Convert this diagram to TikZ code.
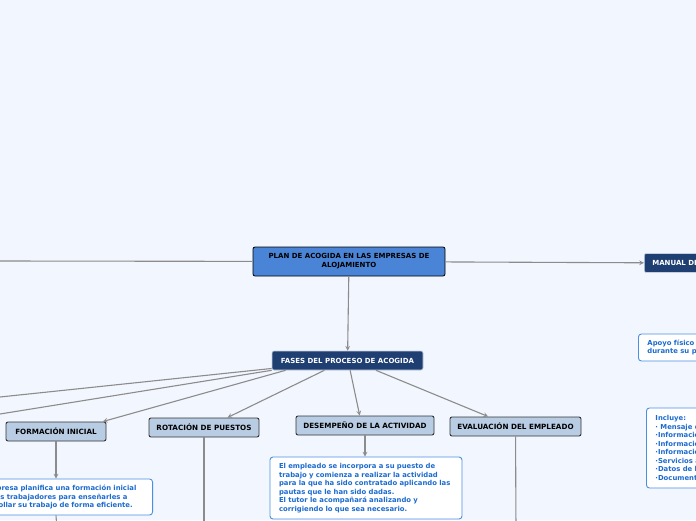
\documentclass[tikz,border=0pt]{standalone}
\usepackage{fontspec}
\setmainfont{DejaVu Sans}
\usepackage{xcolor}
\usetikzlibrary{shapes,arrows,positioning}

\definecolor{fondo}{HTML}{F2F6FE}
\definecolor{azulraiz}{HTML}{4A84D6}
\definecolor{azulosc}{HTML}{1F3F73}
\definecolor{azulclaro}{HTML}{B8CCE4}
\definecolor{azulnota}{HTML}{4A90E2}
\definecolor{textonota}{HTML}{1C6BCF}
\definecolor{gris}{HTML}{8C8C8C}

\begin{document}
\begin{tikzpicture}[x=1pt, y=-1pt,
  raiz/.style={rectangle, rounded corners=2pt, draw=black, line width=0.8pt,
              fill=azulraiz, font=\bfseries\fontsize{7}{9}\selectfont,
              minimum width=192pt, minimum height=29pt, align=center},
  fase/.style={rectangle, rounded corners=2pt, draw=white!75!azulosc, line width=0.6pt,
              fill=azulosc, text=white, font=\bfseries\fontsize{7}{9}\selectfont,
              minimum height=19pt, inner xsep=8pt},
  etapa/.style={rectangle, rounded corners=2pt, draw=black!80, line width=0.9pt,
              fill=azulclaro, font=\bfseries\fontsize{7.2}{9}\selectfont,
              minimum height=19pt},
  nota/.style={rectangle, rounded corners=3pt, draw=azulnota, line width=0.9pt,
              fill=white, text=textonota, font=\bfseries\fontsize{6.85}{8.5}\selectfont,
              align=left, inner xsep=9pt, inner ysep=4pt},
  arr/.style={->, >=stealth, draw=gris, line width=1.1pt},
  lin/.style={draw=gris, line width=1.1pt}
]
\path[use as bounding box, fill=fondo] (0,0) rectangle (696,520);
\clip (0,0) rectangle (696,520);

\node[raiz] (raiz) at (349,261.5) {PLAN DE ACOGIDA EN LAS EMPRESAS DE\\ALOJAMIENTO};
\node[fase, minimum width=151pt] (fases) at (347.5,360.5) {FASES DEL PROCESO DE ACOGIDA};
\node[fase, anchor=west] (manual) at (644,263) {MANUAL DE ACOGIDA};

\node[etapa, minimum width=100pt] (formacion)  at (56,431.5)  {FORMACIÓN INICIAL};
\node[etapa, minimum width=110pt] (rotacion)   at (204,427.5) {ROTACIÓN DE PUESTOS};
\node[etapa, minimum width=138pt] (desempeno)  at (365,425.5) {DESEMPEÑO DE LA ACTIVIDAD};
\node[etapa, minimum width=131pt] (evaluacion) at (515.5,426.5) {EVALUACIÓN DEL EMPLEADO};

\node[nota, anchor=east, text width=170pt, minimum height=36pt] (notaform) at (153,497)
  {La empresa planifica una formación inicial\\para los trabajadores para enseñarles a\\desarrollar su trabajo de forma eficiente.};
\node[nota, text width=174pt, minimum height=62pt] (notades) at (366,488)
  {El empleado se incorpora a su puesto de\\trabajo y comienza a realizar la actividad\\para la que ha sido contratado aplicando las\\pautas que le han sido dadas.\\El tutor le acompañará analizando y\\corrigiendo lo que sea necesario.};
\node[nota, anchor=west, minimum height=27pt] (apoyo) at (638,347.5)
  {Apoyo físico que se entrega al trabajador\\durante su primer día de trabajo.};
\node[nota, anchor=west, minimum height=80pt] (incluye) at (646,448)
  {Incluye:\\· Mensaje de bienvenida\\·Información de la empresa\\·Información del puesto\\·Información de seguridad\\·Servicios al empleado\\·Datos de la persona de contacto\\·Documentación};

% free ends off the picture
\coordinate (izq)   at (0,261);
\coordinate (izqA)  at (0,397);
\coordinate (izqB)  at (0,414);
\coordinate (bajoF) at (57,530);
\coordinate (bajoR) at (204,530);
\coordinate (bajoE) at (516,530);

\draw[lin] (raiz) -- (izq);
\draw[arr] (raiz) -- (manual);
\draw[arr] (raiz) -- (fases);

\draw[lin] (fases.186) -- (izqA);
\draw[lin] (fases.south west) -- (izqB);
\draw[arr] (fases.189) -- (formacion.12);
\draw[arr] (fases.203) -- (rotacion.23);
\draw[arr] (fases.285) -- (desempeno.118);
\draw[arr] (fases.341) -- (evaluacion.160);

\draw[arr] (formacion.south) -- (formacion.south |- notaform.north);
\draw[lin] (formacion.south |- notaform.south) -- (bajoF);
\draw[lin] (rotacion) -- (bajoR);
\draw[arr] (desempeno.south) -- (desempeno.south |- notades.north);
\draw[lin] (evaluacion) -- (bajoE);
\end{tikzpicture}
\end{document}
